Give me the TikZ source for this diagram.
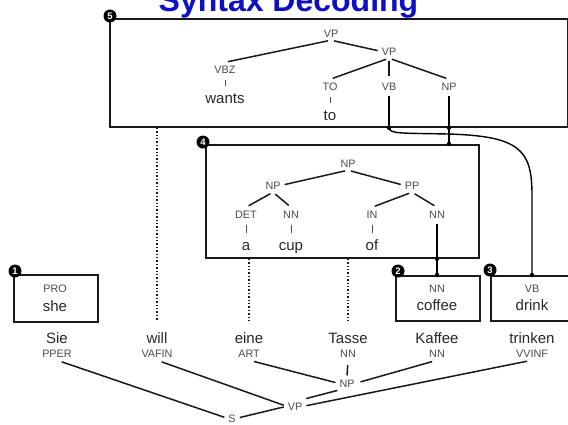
\documentclass[tikz,border=0pt]{standalone}
\usepackage{fontspec}
\setmainfont{Liberation Sans}
\usetikzlibrary{calc}
\definecolor{titleblue}{RGB}{15,15,195}
\definecolor{labgray}{RGB}{75,75,75}
\definecolor{wordgray}{RGB}{40,40,40}
\definecolor{linegray}{RGB}{25,25,25}
\begin{document}
\begin{tikzpicture}[x=1pt,y=-1pt,
 lab/.style={font=\fontsize{10.8}{12}\selectfont, text=labgray, anchor=base, inner xsep=1pt, inner ysep=3pt, text height=7.5pt, text depth=0pt},
 word/.style={font=\fontsize{15}{18}\selectfont, text=wordgray, anchor=base, inner xsep=1pt, inner ysep=2pt, text height=11pt, text depth=3.5pt},
 frame/.style={draw=linegray, line width=1.8pt, inner sep=0pt, anchor=north west},
 edge/.style={draw=linegray, line width=1.5pt, shorten <=3pt, shorten >=3pt},
 bar/.style={draw=labgray, line width=0.9pt, shorten <=3.5pt, shorten >=3.5pt},
 link/.style={draw=black, line width=1.4pt},
 dotline/.style={draw=linegray, line width=1.4pt, dotted},
 dot/.style={circle, fill=black, inner sep=0pt, minimum size=4.5pt},
 badge/.style={circle, fill=black, text=white, inner sep=0pt, minimum size=13pt, font=\bfseries\fontsize{9.5}{9.5}\selectfont},
 titlestyle/.style={font=\bfseries\fontsize{32}{36}\selectfont, text=titleblue, anchor=base, inner sep=0pt},
]
\clip (0,0) rectangle (568,424);
\fill[white] (0,0) rectangle (568,424);

% title (cut at the top edge, as in the reference)
\node[titlestyle] (title) at (288.5,11) {Syntax Decoding};

% boxes
\node[frame, minimum width=458pt, minimum height=108pt] (box5) at (109,18) {};
\node[frame, minimum width=273pt, minimum height=113pt] (box4) at (205,144) {};
\node[frame, minimum width=84pt, minimum height=47pt] (box1) at (13,274) {};
\node[frame, minimum width=84pt, minimum height=45pt] (box2) at (395,275) {};
\node[frame, minimum width=100pt, minimum height=45pt] (box3) at (490,275) {};

% box 5 tree
\node[lab] (vp1) at (331,37) {VP};
\node[lab] (vp2) at (389,55) {VP};
\node[lab] (vbz) at (225,73) {VBZ};
\node[word] (wants) at (225,103) {wants};
\node[lab] (to5) at (330,90) {TO};
\node[word] (toword) at (330,120) {to};
\node[lab] (vb5) at (389,90) {VB};
\node[lab] (np5) at (449,90) {NP};
\draw[edge] (vp1.south) -- (vbz.north);
\draw[edge] (vp1.south) -- (vp2.west);
\draw[edge] (vp2.south) -- (to5.north);
\draw[edge] (vp2.south) -- (vb5.north);
\draw[edge] (vp2.south) -- (np5.north);
\draw[bar] (vbz.south) -- (wants.north);
\draw[bar] (to5.south) -- (toword.north);

% box 4 tree
\node[lab] (np4) at (348,167) {NP};
\node[lab] (npl) at (273,189) {NP};
\node[lab] (pp) at (412,189) {PP};
\node[lab] (det) at (246,218) {DET};
\node[lab] (nncup) at (291,218) {NN};
\node[lab] (in) at (372,218) {IN};
\node[lab] (nn4) at (437,218) {NN};
\node[word] (a) at (246,250) {a};
\node[word] (cup) at (291,250) {cup};
\node[word] (of) at (372,250) {of};
\draw[edge] (np4.south) -- (npl.east);
\draw[edge] (np4.south) -- (pp.west);
\draw[edge] (npl.south) -- (det.north);
\draw[edge] (npl.south) -- (nncup.north);
\draw[edge] (pp.south) -- (in.north);
\draw[edge] (pp.south) -- (nn4.north);
\draw[bar] (det.south) -- (a.north);
\draw[bar] (nncup.south) -- (cup.north);
\draw[bar] (in.south) -- (of.north);

% small boxes
\node[lab] (pro) at (55,292) {PRO};
\node[word] (she) at (55,311) {she};
\node[lab] (nnc) at (437,292) {NN};
\node[word] (coffee) at (437,310) {coffee};
\node[lab] (vbd) at (532,292) {VB};
\node[word] (drink) at (532,310) {drink};

% badges
\node[badge] (b5) at ($(box5.north west)+(1,-2)$) {5};
\node[badge] (b4) at ($(box4.north west)+(-2,-2)$) {4};
\node[badge] (b1) at ($(box1.north west)+(2,-3)$) {1};
\node[badge] (b2) at ($(box2.north west)+(3,-4)$) {2};
\node[badge] (b3) at ($(box3.north west)+(0,-5)$) {3};

% German sentence
\node[word] (sie) at (57,343) {Sie};
\node[word] (will) at (157,343) {will};
\node[word] (eine) at (249,343) {eine};
\node[word] (tasse) at (348,343) {Tasse};
\node[word] (kaffee) at (437,343) {Kaffee};
\node[word] (trinken) at (532,343) {trinken};
\node[lab] (pper) at (57,357) {PPER};
\node[lab] (vafin) at (157,357) {VAFIN};
\node[lab] (art) at (249,357) {ART};
\node[lab] (nnt) at (348,357) {NN};
\node[lab] (nnk) at (437,357) {NN};
\node[lab] (vvinf) at (532,357) {VVINF};
\node[lab] (npb) at (347,387) {NP};
\node[lab] (vpb) at (295,410) {VP};
\node[lab] (sb) at (232,422) {S};
\draw[edge, shorten <=5pt] (pper.south) -- (sb.west);
\draw[edge, shorten <=5pt] (vafin.south) -- (vpb.west);
\draw[edge, shorten <=5pt] (art.south) -- (npb.west);
\draw[edge, shorten <=5pt, shorten >=1pt] (nnt.south) -- (npb.north);
\draw[edge, shorten <=5pt, shorten >=5pt] (nnk.south) -- (npb.east);
\draw[edge, shorten <=5pt] (vvinf.south) -- (vpb.east);
\draw[edge, shorten <=1pt] (npb.south west) -- (vpb.north east);
\draw[edge] (sb.east) -- (vpb.west);

% junction points
\coordinate (d1) at (vb5 |- box5.south);
\coordinate (d2) at (np5 |- box5.south);
\coordinate (d3) at (np5 |- box4.north);
\coordinate (d4) at (nn4 |- box4.south);
\coordinate (d5) at (nn4 |- box2.north);
\coordinate (d6) at (drink |- box3.north);

\draw[link, shorten <=3pt] (vb5.south) -- (d1);
\draw[link, shorten <=3pt] (np5.south) -- (d2) -- (d3);
\draw[link, shorten <=3pt] (nn4.south) -- (d4) -- (d5);
\draw[link] (d1) .. controls (390,134) and (400,133) .. (448,134)
  .. controls (520,136) and (532,150) .. (532,195) -- (d6);
\foreach \d in {d1,d2,d3,d4,d5,d6} \fill (\d) circle (2.2pt);

% dotted alignment lines
\draw[dotline, shorten >=9pt] (will |- box5.south) -- (will.north);
\draw[dotline, shorten >=9pt] (eine |- box4.south) -- (eine.north);
\draw[dotline, shorten >=9pt] (tasse |- box4.south) -- (tasse.north);
\end{tikzpicture}
\end{document}
